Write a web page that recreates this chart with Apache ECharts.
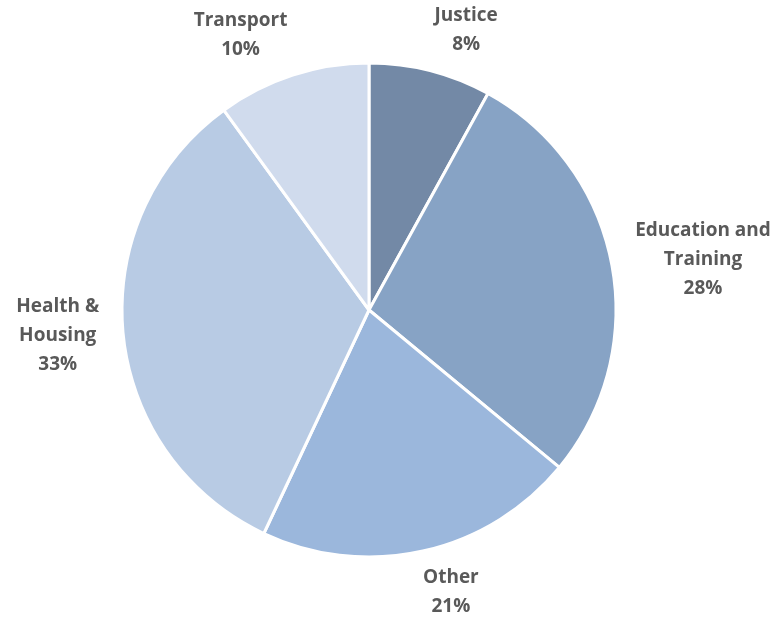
<!DOCTYPE html>
<html>
<head>
<meta charset="utf-8">
<script src="https://cdn.jsdelivr.net/npm/echarts@6/dist/echarts.min.js"></script>
<style>
  html, body { margin: 0; padding: 0; background: #fff; }
  #chart { width: 780px; height: 619px; }
</style>
</head>
<body>
<div id="chart"></div>
<script>
const categories = ["Justice", "Education and\nTraining", "Other", "Health &\nHousing", "Transport"];
const shares = [8, 28, 21, 33, 10];
const colors = ["#7389a6", "#87a3c5", "#9bb7dc", "#b8cbe4", "#d0dbed"];

const cx = 369, cy = 310, R = 247;
const endGap = 17;   // gap when the label sits above / below the pie
const sideGap = 24;  // gap when the label sits left / right of the pie

// mid angle of each slice, clockwise from 12 o'clock
const total = shares.reduce((a, b) => a + b, 0);
let acc = 0;
const midAngles = shares.map(v => {
  const a = (acc + v / 2) / total * Math.PI * 2;
  acc += v;
  return a;
});

const clamp = (v, lo, hi) => Math.max(lo, Math.min(hi, v));

const chart = echarts.init(document.getElementById("chart"));

const option = {
  animation: false,
  series: [
    {
      type: "pie",
      center: [cx, cy],
      radius: R,
      startAngle: 90,
      clockwise: true,
      itemStyle: {
        borderColor: "#fff",
        borderWidth: 3,
      },
      label: {
        show: true,
        position: "outside",
        overflow: "none",
        edgeDistance: 0,
        formatter: p => p.name.split("\n").map(s => "{t|" + s + "}").join("\n") + "\n{t|" + p.value + "%}",
        rich: {
          t: {
            align: "center",
            fontFamily: "Open Sans",
            fontWeight: "bold",
            fontSize: 19,
            lineHeight: 29,
            color: "#595959",
          },
        },
      },
      labelLine: { show: false },
      // excel-like: the label box's nearest corner / side sits on the slice's mid-angle ray
      labelLayout: params => {
        const a = midAngles[params.dataIndex];
        const s = Math.sin(a), c = Math.cos(a);
        const w = params.labelRect.width, h = params.labelRect.height;
        const ax = 0.5 - 0.5 * clamp(s / 0.25, -1, 1);
        let ay, gap;
        if (Math.abs(c) < 0.5) {
          ay = 0.5;
          gap = sideGap;
        } else {
          ay = c > 0 ? 1 : 0;
          gap = endGap;
        }
        const px = cx + (R + gap) * s;
        const py = cy - (R + gap) * c;
        return {
          x: px + (0.5 - ax) * w,
          y: py + (0.5 - ay) * h,
          align: "center",
          verticalAlign: "middle",
        };
      },
      data: categories.map((c, i) => ({
        name: c,
        value: shares[i],
        itemStyle: { color: colors[i] },
      })),
    },
  ],
};

chart.setOption(option);
</script>
</body>
</html>
